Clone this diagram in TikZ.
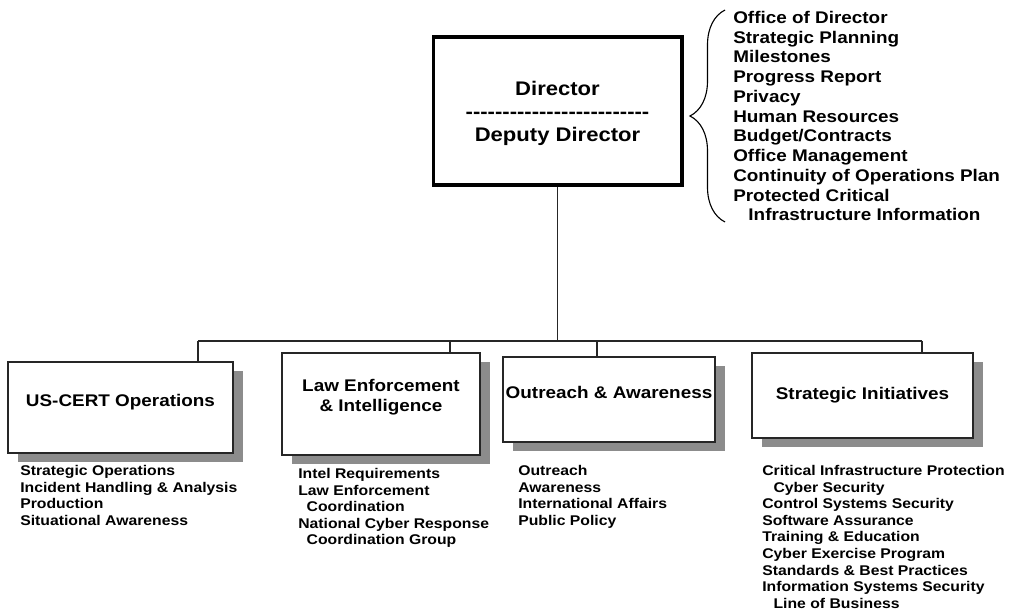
\documentclass[tikz,border=0pt]{standalone}
\usepackage{fontspec}
\setmainfont{Liberation Sans}[FakeStretch=1.12]
\usetikzlibrary{shadows,decorations.pathreplacing}
\tikzset{
  headbox/.style = {draw, line width=2.8pt, align=center, inner sep=0pt,
                    minimum width=6.2cm, minimum height=3.72cm,
                    font=\fontsize{14}{16.3}\selectfont\bfseries},
  unitbox/.style = {draw=black!85, line width=0.9pt, fill=white,
                    align=center, inner sep=0pt,
                    font=\fontsize{12}{14.2}\selectfont\bfseries,
                    general shadow={fill=black!45, shadow xshift=7pt,
                                    shadow yshift=-6.3pt}},
  lift/.style     = {text depth=#1},
  staff/.style    = {anchor=north west, align=left, inner sep=0pt,
                     font=\fontsize{12}{14.03}\selectfont\bfseries},
  tasks/.style    = {anchor=north west, align=left, inner sep=0pt,
                     font=\fontsize{10}{11.8}\selectfont\bfseries},
  wire/.style     = {draw=black!85, line width=0.8pt}
}
\newcommand\dashrow{\foreach \k in {1,...,25}{\hbox{-}}}

\begin{document}
\begin{tikzpicture}[x=0.025cm, y=-0.025cm]
  \useasboundingbox (0,0) rectangle (1009,610);

  \node[headbox, lift=0pt] (dir) at (557.5,111)
    {Director\\ \dashrow\\ Deputy Director};

  \node[staff] (staffdut) at (733,11) {Office of Director\\Strategic Planning\\
    Milestones\\Progress Report\\Privacy\\Human Resources\\Budget/Contracts\\
    Office Management\\Continuity of Operations Plan\\Protected Critical\\
    \hspace*{0.9em}Infrastructure Information};
  \draw[line width=0.8pt, decorate,
        decoration={brace, amplitude=0.875cm, aspect=0.5}] (725,222) -- (725,10);

  \node[unitbox, minimum width=5.625cm, minimum height=2.275cm, lift=10.6pt]
    (uscert) at (120.5,407.5) {US-CERT Operations};
  \node[unitbox, minimum width=4.95cm, minimum height=2.55cm, lift=12.8pt]
    (lawenf) at (381,404) {Law Enforcement\\\& Intelligence};
  \node[unitbox, minimum width=5.3cm, minimum height=2.125cm, lift=10.6pt]
    (outreach) at (609,399.5) {Outreach \& Awareness};
  \node[unitbox, minimum width=5.525cm, minimum height=2.125cm]
    (strategic) at (862.5,395.5) {Strategic Initiatives};

  \node[tasks] (ustasks) at (20,465) {Strategic Operations\\
    Incident Handling \& Analysis\\Production\\Situational Awareness};
  \node[tasks] (lawtasks) at (298,468) {Intel Requirements\\Law Enforcement\\
    \hspace*{.6em}Coordination\\National Cyber Response\\
    \hspace*{.6em}Coordination Group};
  \node[tasks] (outtasks) at (518,465) {Outreach\\Awareness\\
    International Affairs\\Public Policy};
  \node[tasks] (strtasks) at (762,465) {Critical Infrastructure Protection\\
    \hspace*{.8em}Cyber Security\\Control Systems Security\\Software Assurance\\
    Training \& Education\\Cyber Exercise Program\\Standards \& Best Practices\\
    Information Systems Security\\\hspace*{.8em}Line of Business};

  \coordinate (bar) at (557.5,341);
  \coordinate (usjoin) at (198,362);
  \coordinate (lawjoin) at (450,353);
  \coordinate (outjoin) at (597,357);
  \coordinate (strjoin) at (922,353);

  \draw[wire] (dir.south) -- (bar);
  \draw[wire] (usjoin |- bar) -- (strjoin |- bar);
  \foreach \j in {usjoin,lawjoin,outjoin,strjoin}
    \draw[wire] (\j |- bar) -- (\j);
\end{tikzpicture}
\end{document}
